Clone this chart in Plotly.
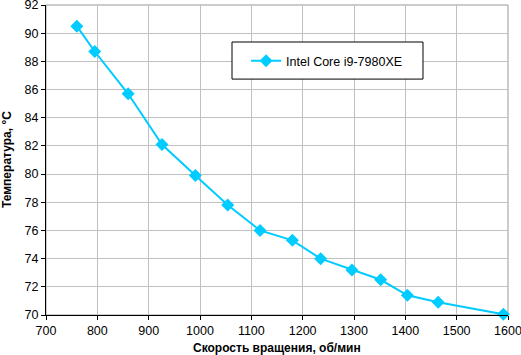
import plotly.graph_objects as go

rpm = [760, 795, 860, 926, 991, 1054, 1117, 1180, 1235, 1296, 1352, 1404, 1464, 1591]
temp = [90.5, 88.7, 85.7, 82.1, 79.9, 77.8, 76.0, 75.3, 74.0, 73.2, 72.5, 71.4, 70.9, 70.05]
series_name = "Intel Core i9-7980XE"
x_title = "Скорость вращения, об/мин"
y_title = "Температура, °C"

color = "#00CCFF"
fig = go.Figure()
fig.add_trace(go.Scatter(
    x=rpm, y=temp, mode="lines+markers", name=series_name,
    line=dict(color=color, width=2),
    marker=dict(symbol="diamond", size=10, color=color),
    showlegend=True, cliponaxis=False,
))
fig.update_layout(
    width=521, height=355,
    margin=dict(l=46, r=13, t=5, b=40, autoexpand=False),
    paper_bgcolor="white", plot_bgcolor="white",
    font=dict(family="Liberation Sans, Arial", size=12, color="black"),
    legend=dict(x=0.433, y=0.819, xanchor="left", yanchor="middle",
                borderwidth=0, bgcolor="rgba(0,0,0,0)",
                font=dict(size=12.5), itemwidth=30),
    shapes=[
        dict(type="rect", xref="paper", yref="paper", x0=0, y0=0, x1=1, y1=1,
             line=dict(color="#999999", width=1), layer="below"),
        dict(type="rect", xref="paper", yref="paper", x0=0.4026, y0=0.761, x1=0.816, y1=0.8806,
             line=dict(color="black", width=1), fillcolor="white", layer="above"),
    ],
    annotations=[
        dict(text="<b>" + x_title + "</b>", xref="paper", yref="paper",
             x=0.5, y=0, yshift=-24, xanchor="center", yanchor="top",
             showarrow=False, font=dict(size=12)),
        dict(text="<b>" + y_title + "</b>", xref="paper", yref="paper",
             x=0, y=0.5, xshift=-39, xanchor="center", yanchor="middle",
             textangle=-90, showarrow=False, font=dict(size=12)),
    ],
)
fig.update_xaxes(range=[700, 1600], dtick=100, tick0=700, automargin=False,
                 showgrid=True, gridcolor="#C0C0C0", gridwidth=1,
                 showline=True, linecolor="black", linewidth=1,
                 ticks="outside", ticklen=4, tickcolor="black",
                 zeroline=False, tickfont=dict(size=12.5), ticklabeloverflow="allow")
fig.update_yaxes(range=[70, 92], dtick=2, tick0=70, automargin=False,
                 showgrid=True, gridcolor="#C0C0C0", gridwidth=1,
                 showline=True, linecolor="black", linewidth=1,
                 ticks="outside", ticklen=4, tickcolor="black",
                 zeroline=False, tickfont=dict(size=12.5), ticklabeloverflow="allow")
fig.write_html("out.html", config={"displayModeBar": False},
               post_script="document.body.style.margin='0';document.body.style.overflow='hidden';")
